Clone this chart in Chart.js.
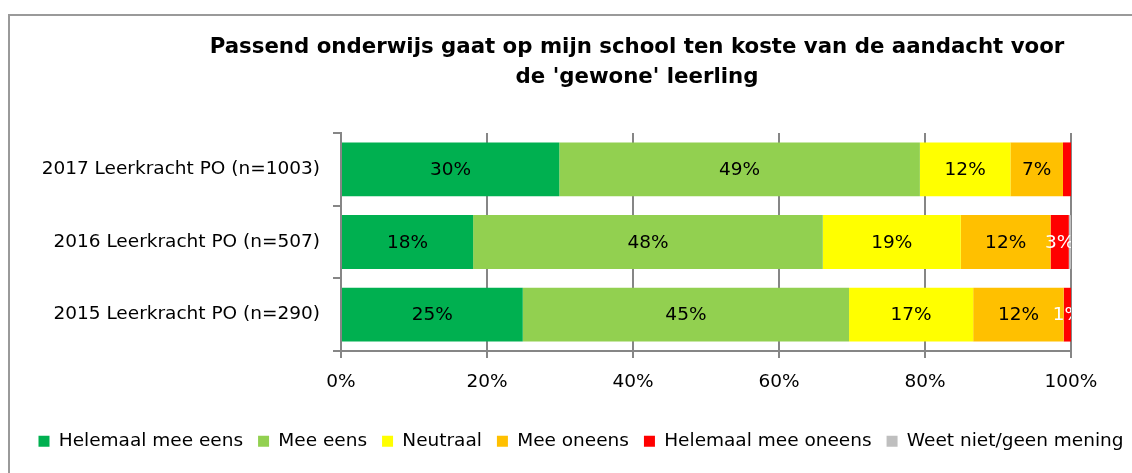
<!DOCTYPE html>
<html lang="nl">
<head>
<meta charset="utf-8">
<title>Passend onderwijs</title>
<script src="https://cdn.jsdelivr.net/npm/chart.js"></script>
<style>
  html, body { margin: 0; padding: 0; background: #fff; overflow: hidden; }
  .frame { position: absolute; left: 8px; top: 14px; width: 1200px; height: 520px; border: 2px solid #9a9a9a; }
  .wrap { position: absolute; left: 0; top: 0; width: 1132px; height: 473px; }
</style>
</head>
<body>
<div class="frame"></div>
<div class="wrap"><canvas id="chart" width="1132" height="473"></canvas></div>
<script>
  // survey answers per year, in percent
  const categories = ['2017 Leerkracht PO (n=1003)', '2016 Leerkracht PO (n=507)', '2015 Leerkracht PO (n=290)'];
  const seriesNames = ['Helemaal mee eens', 'Mee eens', 'Neutraal', 'Mee oneens', 'Helemaal mee oneens', 'Weet niet/geen mening'];
  const helemaalMeeEens = [29.9, 18.1, 24.9];
  const meeEens = [49.4, 47.9, 44.7];
  const neutraal = [12.4, 18.9, 17.0];
  const meeOneens = [7.2, 12.3, 12.4];
  const helemaalMeeOneens = [1.1, 2.5, 1.0];
  const weetNiet = [0, 0.3, 0];
  const xTicks = [0, 20, 40, 60, 80, 100];
  // labels Excel left out
  const hiddenLabels = [[4, 0]];

  const colors = ['#00b050', '#92d050', '#ffff00', '#ffc000', '#ff0000', '#bfbfbf'];
  const labelColors = ['#000', '#000', '#000', '#000', '#fff', '#000'];
  const values = [helemaalMeeEens, meeEens, neutraal, meeOneens, helemaalMeeOneens, weetNiet];

  const FONT = 'DejaVu Sans';
  const gray = '#868686';

  const barLabels = {
    id: 'barLabels',
    afterDatasetsDraw(chart) {
      const ctx = chart.ctx;
      const area = chart.chartArea;
      ctx.save();
      ctx.beginPath();
      ctx.rect(area.left, area.top, area.right - area.left, area.bottom - area.top);
      ctx.clip();
      ctx.font = '18.5px ' + FONT;
      ctx.textAlign = 'center';
      ctx.textBaseline = 'middle';
      chart.data.datasets.forEach((ds, d) => {
        chart.getDatasetMeta(d).data.forEach((bar, i) => {
          const v = ds.data[i];
          if (v < 0.5) return;
          if (hiddenLabels.some(h => h[0] === d && h[1] === i)) return;
          ctx.fillStyle = labelColors[d];
          ctx.fillText(Math.round(v) + '%', (bar.x + bar.base) / 2, bar.y + 1);
        });
      });
      ctx.restore();
    }
  };

  // title and legend sit a bit right of centre in the original
  const shiftBoxes = {
    id: 'shiftBoxes',
    afterLayout(chart) {
      chart.legend.left += 15;
      chart.legend.right += 15;
      chart.titleBlock.left += 142;
    }
  };

  new Chart(document.getElementById('chart'), {
    type: 'bar',
    data: {
      labels: categories,
      datasets: values.map((v, i) => ({
        label: seriesNames[i],
        data: v,
        backgroundColor: colors[i],
        borderWidth: 0,
        categoryPercentage: 1,
        barPercentage: 0.74
      }))
    },
    plugins: [barLabels, shiftBoxes],
    options: {
      indexAxis: 'y',
      responsive: false,
      animation: false,
      layout: { padding: { left: 0, right: 0, top: 0, bottom: 12.5 } },
      plugins: {
        title: {
          display: true,
          text: ["Passend onderwijs gaat op mijn school ten koste van de aandacht voor", "de 'gewone' leerling"],
          color: '#000',
          font: { family: FONT, size: 21.3, weight: 'bold', lineHeight: '30px' },
          padding: { top: 32, bottom: 41 }
        },
        legend: {
          position: 'bottom',
          labels: {
            boxWidth: 11,
            boxHeight: 11,
            padding: 15,
            color: '#000',
            font: { family: FONT, size: 18.5 }
          }
        },
        tooltip: { enabled: false }
      },
      scales: {
        x: {
          stacked: true,
          min: 0,
          max: 100,
          afterBuildTicks: (scale) => { scale.ticks = xTicks.map(v => ({ value: v })); },
          afterFit: (scale) => { scale.height = 66; scale.paddingRight = 61; },
          ticks: {
            color: '#000',
            padding: 13,
            font: { family: FONT, size: 18.5 },
            callback: (v) => v + '%'
          },
          grid: { color: gray, lineWidth: 2, tickLength: 7 },
          border: { color: gray, width: 2 }
        },
        y: {
          stacked: true,
          afterFit: (scale) => { scale.width = 341; },
          ticks: {
            color: '#000',
            padding: 13,
            font: { family: FONT, size: 18.5 }
          },
          grid: { drawOnChartArea: false, color: gray, lineWidth: 2, tickLength: 8 },
          border: { color: gray, width: 2 }
        }
      }
    }
  });
</script>
</body>
</html>
